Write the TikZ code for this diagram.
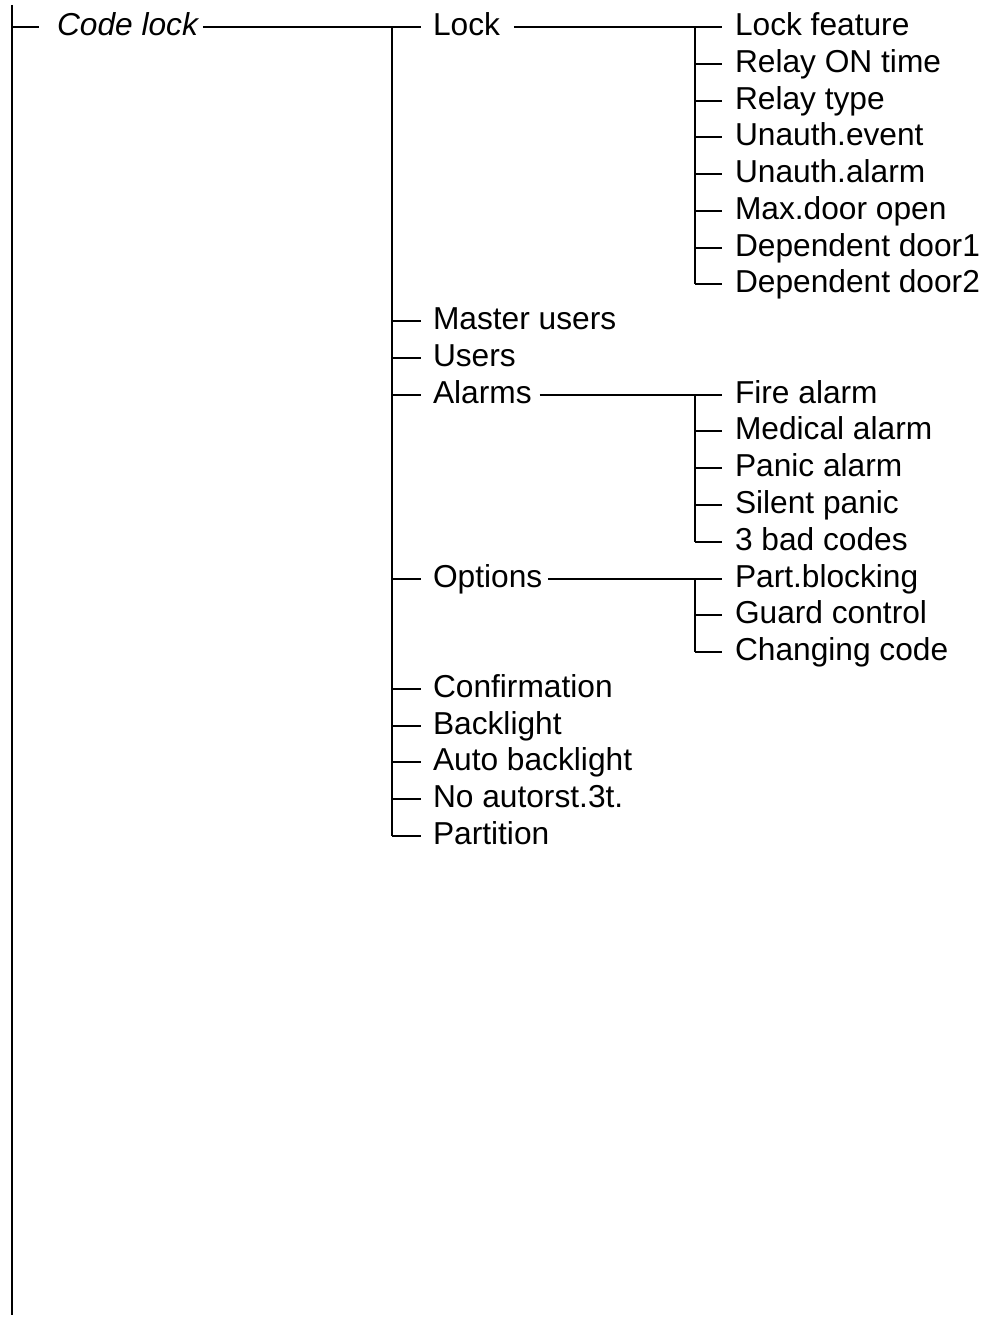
\documentclass[tikz,border=0pt]{standalone}
\usepackage{fontspec}
\setmainfont{Liberation Sans}
\begin{document}
\begin{tikzpicture}[x=1pt,y=-1pt,
  lbl/.style={anchor=west,inner sep=0pt,outer sep=0pt,text height=22.7pt,text depth=5.7pt,font=\fontsize{31.7}{38}\selectfont},
  conn/.style={line width=2pt,line cap=butt}]
\useasboundingbox (0,0) rectangle (987,1322);
\def\dy{36.77}
% vertical reference coordinates
\coordinate (v1) at (12,5);
\coordinate (v1b) at (12,1315);
\coordinate (v2) at (392,0);
\coordinate (v3) at (695,0);
% level 1
\node[lbl,font=\fontsize{31.7}{38}\selectfont\itshape] (codelock) at (57,27) {Code lock};
% level 2
\node[lbl] (lock)   at (433,{round(27+\dy*0)}) {Lock};
\node[lbl] (master) at (433,{round(27+\dy*8)}) {Master users};
\node[lbl] (users)  at (433,{round(27+\dy*9)}) {Users};
\node[lbl] (alarms) at (433,{round(27+\dy*10)}) {Alarms};
\node[lbl] (options) at (433,{round(27+\dy*15)}) {Options};
\node[lbl] (confirm) at (433,{round(27+\dy*18)}) {Confirmation};
\node[lbl] (back)   at (433,{round(27+\dy*19)}) {Backlight};
\node[lbl] (autoback) at (433,{round(27+\dy*20)}) {Auto backlight};
\node[lbl] (noauto) at (433,{round(27+\dy*21)}) {No autorst.3t.};
\node[lbl] (part)   at (433,{round(27+\dy*22)}) {Partition};
% level 3: lock
\node[lbl] (lf)  at (735,{round(27+\dy*0)}) {Lock feature};
\node[lbl] (ron) at (735,{round(27+\dy*1)}) {Relay ON time};
\node[lbl] (rty) at (735,{round(27+\dy*2)}) {Relay type};
\node[lbl] (uev) at (735,{round(27+\dy*3)}) {Unauth.event};
\node[lbl] (ual) at (735,{round(27+\dy*4)}) {Unauth.alarm};
\node[lbl] (mdo) at (735,{round(27+\dy*5)}) {Max.door open};
\node[lbl] (dd1) at (735,{round(27+\dy*6)}) {Dependent door1};
\node[lbl] (dd2) at (735,{round(27+\dy*7)}) {Dependent door2};
% level 3: alarms
\node[lbl] (fire) at (735,{round(27+\dy*10)}) {Fire alarm};
\node[lbl] (med)  at (735,{round(27+\dy*11)}) {Medical alarm};
\node[lbl] (pan)  at (735,{round(27+\dy*12)}) {Panic alarm};
\node[lbl] (sil)  at (735,{round(27+\dy*13)}) {Silent panic};
\node[lbl] (bad)  at (735,{round(27+\dy*14)}) {3 bad codes};
% level 3: options
\node[lbl] (pblk) at (735,{round(27+\dy*15)}) {Part.blocking};
\node[lbl] (guard) at (735,{round(27+\dy*16)}) {Guard control};
\node[lbl] (chg)  at (735,{round(27+\dy*17)}) {Changing code};
% left trunk
\draw[conn] (v1) -- (v1b);
\draw[conn] (codelock.west -| v1) -- ([xshift=-18pt]codelock.west);
% code lock to level 2
\draw[conn] ([xshift=5pt]codelock.east) -- ([xshift=-12pt]lock.west);
\draw[conn] (lock.west -| v2) -- (part.west -| v2);
\foreach \n in {master,users,alarms,options,confirm,back,autoback,noauto,part}
  \draw[conn] (\n.west -| v2) -- ([xshift=-12pt]\n.west);
% lock group
\draw[conn] ([xshift=14pt]lock.east) -- ([xshift=-13pt]lf.west);
\draw[conn] (lf.west -| v3) -- (dd2.west -| v3);
\foreach \n in {ron,rty,uev,ual,mdo,dd1,dd2}
  \draw[conn] (\n.west -| v3) -- ([xshift=-13pt]\n.west);
% alarms group
\draw[conn] ([xshift=8pt]alarms.east) -- ([xshift=-13pt]fire.west);
\draw[conn] (fire.west -| v3) -- (bad.west -| v3);
\foreach \n in {med,pan,sil,bad}
  \draw[conn] (\n.west -| v3) -- ([xshift=-13pt]\n.west);
% options group
\draw[conn] ([xshift=6pt]options.east) -- ([xshift=-13pt]pblk.west);
\draw[conn] (pblk.west -| v3) -- (chg.west -| v3);
\foreach \n in {guard,chg}
  \draw[conn] (\n.west -| v3) -- ([xshift=-13pt]\n.west);
\end{tikzpicture}
\end{document}
